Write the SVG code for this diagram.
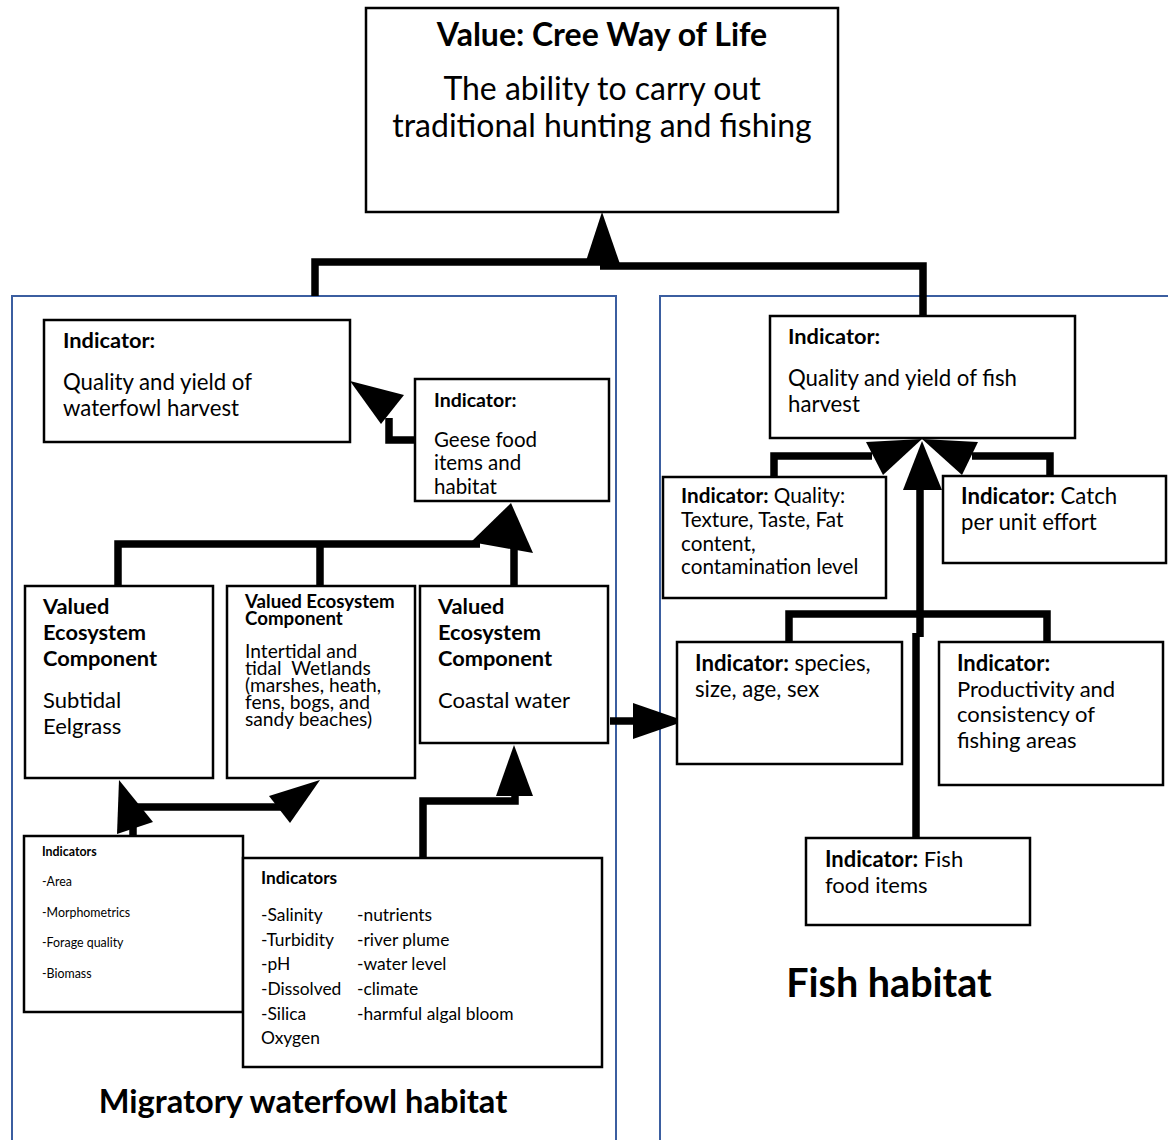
<svg xmlns="http://www.w3.org/2000/svg" width="1168" height="1140" viewBox="0 0 1168 1140">
<style>
.box{fill:#fff;stroke:#000;stroke-width:2.5}
.panel{fill:none;stroke:#3b5ea0;stroke-width:2}
.ln{fill:none;stroke:#000;stroke-width:7.5;stroke-linejoin:miter}
.ah{fill:#000;stroke:none}
text{font-family:Lato,"Open Sans","Liberation Sans",sans-serif;fill:#000}
.b{font-weight:bold}
</style>
<rect width="1168" height="1140" fill="#fff"/>
<g id="panels">
<rect class="panel" x="12" y="296" width="604" height="860"/>
<rect class="panel" x="660" y="296" width="520" height="860"/>
<text class="b" x="303" y="1113" font-size="32.6" text-anchor="middle">Migratory waterfowl habitat</text>
<text class="b" x="889" y="997" font-size="39.5" text-anchor="middle">Fish habitat</text>
</g>
<g id="connectors">
<path class="ln" d="M315,296 V262 H600 M600,266 H923 V316"/>
<polygon class="ah" points="602,212 585,264 620,264"/>
<path class="ln" d="M415,440 H389 V418"/>
<polygon class="ah" points="350,381 404,395 381,424"/>
<path class="ln" d="M118,586 V544 H480 M320,586 V544 M514,586 V548"/>
<polygon class="ah" points="511,503 471,542 533,553"/>
<path class="ln" d="M610,721 H636"/>
<polygon class="ah" points="685,721 633,703 633,739"/>
<path class="ln" d="M133,837 V807 H283"/>
<polygon class="ah" points="119,780 117,834 153,822"/>
<polygon class="ah" points="320,780 269,796 290,823"/>
<path class="ln" d="M423,858 V801 H515 V790"/>
<polygon class="ah" points="514,745 496,796 533,796"/>
<path class="ln" d="M774,477 V456 H872 M1050,477 V456 H972"/>
<polygon class="ah" points="922,439 866,442 883,475"/>
<polygon class="ah" points="922,439 978,442 962,475"/>
<polygon class="ah" points="922,441 903,490 942,490"/>
<path class="ln" d="M920,488 V637 M916,633 V838 M789,642 V614 H1047 V642"/>
</g>
<g id="n-value">
<rect class="box" x="366" y="8" width="472" height="204"/>
<text class="b" x="602" y="46" font-size="32" text-anchor="middle">Value: Cree Way of Life</text>
<text x="602" y="100" font-size="32" text-anchor="middle">The ability to carry out</text>
<text x="602" y="137" font-size="32" text-anchor="middle">traditional hunting and fishing</text>
</g>
<g id="n-waterfowl-harvest">
<rect class="box" x="44" y="320" width="306" height="122"/>
<text class="b" x="63" y="348" font-size="21.8">Indicator:</text>
<text x="63" y="390" font-size="22.2">Quality and yield of</text>
<text x="63" y="416" font-size="22.2">waterfowl harvest</text>
</g>
<g id="n-geese">
<rect class="box" x="415" y="379" width="194" height="122"/>
<text class="b" x="434" y="407" font-size="19.5">Indicator:</text>
<text x="434" y="447" font-size="20.5">Geese food</text>
<text x="434" y="470" font-size="20.5">items and</text>
<text x="434" y="494" font-size="20.5">habitat</text>
</g>
<g id="n-eelgrass">
<rect class="box" x="25" y="586" width="188" height="192"/>
<text class="b" x="43" y="614" font-size="21.8">Valued</text>
<text class="b" x="43" y="640" font-size="21.8">Ecosystem</text>
<text class="b" x="43" y="666" font-size="21.8">Component</text>
<text x="43" y="708" font-size="22">Subtidal</text>
<text x="43" y="734" font-size="22">Eelgrass</text>
</g>
<g id="n-wetlands">
<rect class="box" x="227" y="586" width="188" height="192"/>
<text class="b" x="245" y="608" font-size="18.7">Valued Ecosystem</text>
<text class="b" x="245" y="625" font-size="18.7">Component</text>
<text x="245" y="658" font-size="19.2">Intertidal and</text>
<text x="245" y="675" font-size="19.2" xml:space="preserve">tidal  Wetlands</text>
<text x="245" y="692" font-size="19.2">(marshes, heath,</text>
<text x="245" y="709" font-size="19.2">fens, bogs, and</text>
<text x="245" y="726" font-size="19.2">sandy beaches)</text>
</g>
<g id="n-coastal">
<rect class="box" x="420" y="586" width="188" height="157"/>
<text class="b" x="438" y="614" font-size="21.8">Valued</text>
<text class="b" x="438" y="640" font-size="21.8">Ecosystem</text>
<text class="b" x="438" y="666" font-size="21.8">Component</text>
<text x="438" y="708" font-size="22">Coastal water</text>
</g>
<g id="n-indicators-eelgrass">
<rect class="box" x="24" y="836" width="219" height="176"/>
<text class="b" x="42" y="856" font-size="12.4">Indicators</text>
<text x="42" y="886" font-size="12.4">-Area</text>
<text x="42" y="917" font-size="12.4">-Morphometrics</text>
<text x="42" y="947" font-size="12.4">-Forage quality</text>
<text x="42" y="978" font-size="12.4">-Biomass</text>
</g>
<g id="n-indicators-water">
<rect class="box" x="243" y="858" width="359" height="209"/>
<text class="b" x="261" y="884" font-size="17.3">Indicators</text>
<text x="261" y="921" font-size="17.4">-Salinity</text>
<text x="261" y="946" font-size="17.4">-Turbidity</text>
<text x="261" y="970" font-size="17.4">-pH</text>
<text x="261" y="995" font-size="17.4">-Dissolved</text>
<text x="261" y="1020" font-size="17.4">-Silica</text>
<text x="261" y="1044" font-size="17.4">Oxygen</text>
<text x="357" y="921" font-size="17.4">-nutrients</text>
<text x="357" y="946" font-size="17.4">-river plume</text>
<text x="357" y="970" font-size="17.4">-water level</text>
<text x="357" y="995" font-size="17.4">-climate</text>
<text x="357" y="1020" font-size="17.4">-harmful algal bloom</text>
</g>
<g id="n-fish-harvest">
<rect class="box" x="770" y="316" width="305" height="122"/>
<text class="b" x="788" y="344" font-size="21.8">Indicator:</text>
<text x="788" y="386" font-size="22.2">Quality and yield of fish</text>
<text x="788" y="412" font-size="22.2">harvest</text>
</g>
<g id="n-quality">
<rect class="box" x="663" y="477" width="223" height="121"/>
<text x="681" y="503" font-size="20.7"><tspan class="b">Indicator:</tspan> Quality:</text>
<text x="681" y="527" font-size="20.7">Texture, Taste, Fat</text>
<text x="681" y="551" font-size="20.7">content,</text>
<text x="681" y="574" font-size="20.7">contamination level</text>
</g>
<g id="n-catch">
<rect class="box" x="943" y="476" width="223" height="87"/>
<text x="961" y="504" font-size="22.2"><tspan class="b">Indicator:</tspan> Catch</text>
<text x="961" y="530" font-size="22.2">per unit effort</text>
</g>
<g id="n-species">
<rect class="box" x="677" y="642" width="225" height="122"/>
<text x="695" y="671" font-size="22.2"><tspan class="b">Indicator:</tspan> species,</text>
<text x="695" y="697" font-size="22.2">size, age, sex</text>
</g>
<g id="n-productivity">
<rect class="box" x="939" y="642" width="224" height="143"/>
<text class="b" x="957" y="671" font-size="22">Indicator:</text>
<text x="957" y="697" font-size="22">Productivity and</text>
<text x="957" y="722" font-size="22">consistency of</text>
<text x="957" y="748" font-size="22">fishing areas</text>
</g>
<g id="n-fish-food">
<rect class="box" x="806" y="838" width="224" height="87"/>
<text x="825" y="867" font-size="22"><tspan class="b">Indicator:</tspan> Fish</text>
<text x="825" y="893" font-size="22">food items</text>
</g>
</svg>
